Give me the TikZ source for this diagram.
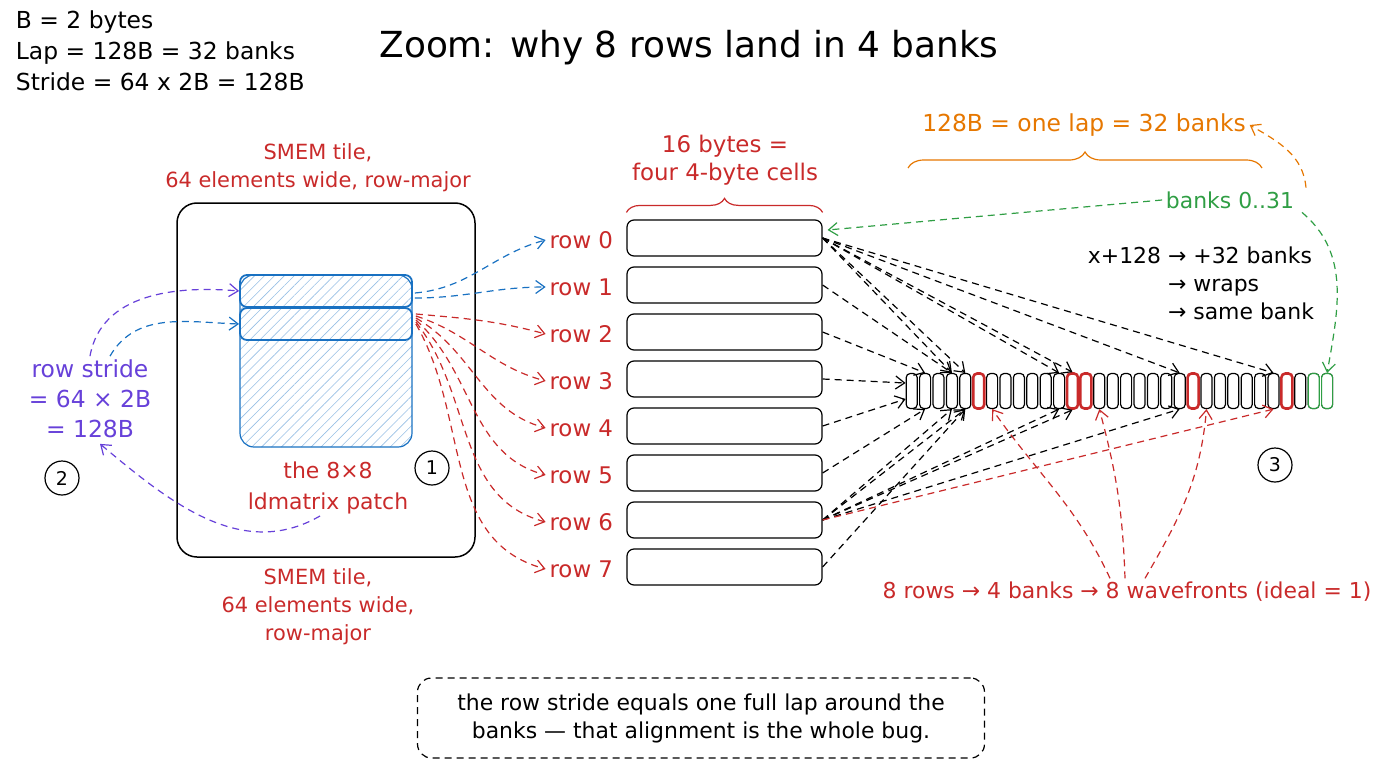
\documentclass[tikz,border=0pt]{standalone}
\usepackage{fontspec}
\setmainfont{DejaVu Sans}
\usepackage{tikz}
\usetikzlibrary{arrows.meta,patterns.meta,calc,decorations.pathreplacing}
\definecolor{lapred}{HTML}{C92A2A}
\definecolor{tileblue}{HTML}{1971C2}
\definecolor{stridepurple}{HTML}{6741D9}
\definecolor{bankgreen}{HTML}{2F9E44}
\definecolor{laporange}{HTML}{E67700}

\begin{document}
\begin{tikzpicture}[x=1bp, y=1bp, line width=1.2bp,
        every node/.append style={font=\fontsize{22}{28}\selectfont, align=center},
        link/.style={dash pattern=on 7bp off 5bp, -{Straight Barb[length=9bp,width=13bp]}}]
      \tikzstyle{rowbox} = [draw, rounded corners=7bp, minimum width=195bp, minimum height=36bp, inner sep=0pt]
      \tikzstyle{rowlab} = [text=lapred, anchor=east, font=\fontsize{23}{28}\selectfont]
      \tikzstyle{cell} = [draw, fill=white, rounded corners=4bp, minimum width=11bp, minimum height=35bp, inner sep=0pt]
      \tikzstyle{hotcell} = [cell, draw=lapred, line width=2.6bp]
      \tikzstyle{wrapcell} = [cell, draw=bankgreen]
      \tikzstyle{marker} = [draw, circle, minimum size=34bp, inner sep=0pt, font=\fontsize{19}{22}\selectfont]
      \tikzstyle{patchrow} = [draw=tileblue, line width=1.8bp, rounded corners=7bp, minimum width=172bp, minimum height=32bp, inner sep=0pt]
      \useasboundingbox (0,0) rectangle (1376,-768);

      \node (notes) [anchor=north west, align=left, font=\fontsize{23.5}{31}\selectfont] at (12,-7) {B = 2 bytes\\ Lap = 128B = 32 banks\\ Stride = 64 x 2B = 128B};
      \node (title) [font=\fontsize{36}{40}\selectfont] at (689,-48) {Zoom: why 8 rows land in 4 banks};

      \node (tile) [draw, rounded corners=20bp, minimum width=298bp, minimum height=354bp, line width=1.5bp] at (326,-380) {};
      \node (tiletop) [text=lapred, font=\fontsize{21}{28}\selectfont] at (318,-168) {SMEM tile,\\ 64 elements wide, row-major};
      \node (tilebot) [text=lapred, font=\fontsize{21}{28}\selectfont] at (318,-607) {SMEM tile,\\ 64 elements wide,\\ row-major};
      \node (patch) [draw=tileblue, rounded corners=14bp, pattern={Lines[angle=45,distance=7bp,line width=0.6bp]}, pattern color=tileblue!45, minimum width=172bp, minimum height=172bp] at (326,-361) {};
      \node (prow0) [patchrow] at (326,-291) {};
      \node (prow1) [patchrow] at (326,-324) {};
      \node (patchlab) [text=lapred, font=\fontsize{22}{31}\selectfont] at (328,-488) {the 8×8\\ ldmatrix patch};
      \node (stride) [text=stridepurple, font=\fontsize{23.5}{30}\selectfont] at (90,-399) {row stride\\ = 64 × 2B\\ = 128B};
      \node (one) [marker] at (432,-468) {1};
      \node (two) [marker] at (62,-478) {2};
      \node (three) [marker] at (1275,-465) {3};

      \foreach \r in {0,...,7} {
        \node (row\r) [rowbox] at (724.5,{-238-47*\r}) {};
        \node (lab\r) [rowlab] at (617,{-240-47*\r}) {row \r};
      }
      \draw [decorate, decoration={brace, amplitude=14bp}, lapred] ($(row0.north west)+(0,7)$) -- ($(row0.north east)+(0,7)$);
      \node (bytes) [text=lapred, font=\fontsize{23}{28}\selectfont] at (725,-160) {16 bytes =\\ four 4-byte cells};

      \foreach \i in {0,...,31}
        \node (c\i) [cell] at ({911.7+13.4*\i},-391) {};
      \foreach \i in {5,12,13,21,28}
        \node (c\i) [hotcell] at ({911.7+13.4*\i},-391) {};
      \foreach \i in {30,31}
        \node (c\i) [wrapcell] at ({911.7+13.4*\i},-391) {};

      \coordinate (lapL) at (908,-168);
      \coordinate (lapR) at (1262,-168);
      \draw [decorate, decoration={brace, amplitude=16bp}, laporange] (lapL) -- (lapR);
      \node (lap) [text=laporange, font=\fontsize{23.5}{28}\selectfont] at (1084,-125) {128B = one lap = 32 banks};
      \node (banks) [text=bankgreen] at (1230,-200) {banks 0..31};
      \node (wrap) [anchor=north west] at (1084,-240) {\begin{tabular}{@{}l@{ }l@{}}x+128 & → +32 banks\\ & → wraps\\ & → same bank\end{tabular}};
      \node (waves) [text=lapred] at (1127,-592) {8 rows → 4 banks → 8 wavefronts (ideal = 1)};
      \node (note) [draw, dash pattern=on 7bp off 5bp, rounded corners=14bp, minimum width=567bp, minimum height=80bp] at (701,-718) {the row stride equals one full lap around the\\ banks — that alignment is the whole bug.};

      \draw [link, stridepurple] (stride.north) to[out=80, in=175] (prow0.west);
      \draw [link, tileblue] ($(stride.north)+(20,0)$) to[out=60, in=178] (prow1.west);
      \draw [link, stridepurple] ($(patchlab.south)+(-8,2)$) to[out=-150, in=-40] ($(stride.south)+(10,-2)$);
      \draw [link, tileblue] ($(prow0.east)+(2,-2)$) to[out=5, in=195] (lab0.west);
      \draw [link, tileblue] ($(prow0.east)+(2,-7)$) to[out=0, in=180] (lab1.west);
      \foreach \r/\o in {2/-5,3/-18,4/-30,5/-42,6/-52,7/-60}
        \draw [link, lapred] ($(prow1.east)+(3,{14-2*\r})$) to[out=\o, in=165] (lab\r.west);

      \foreach \k in {3,4,11,12,20,27}
        \draw [link] (row0.east) -- (c\k.north);
      \draw [link] (row1.east) -- (c3.north);
      \draw [link] (row2.east) -- (c1.north);
      \draw [link] (row3.east) -- ($(c0.west)+(0,8)$);
      \draw [link] (row4.east) -- ($(c0.west)+(0,-8)$);
      \draw [link] (row5.east) -- (c1.south);
      \foreach \k in {3,4,11,12,20}
        \draw [link] (row6.east) -- (c\k.south);
      \draw [link, lapred] (row6.east) -- (c27.south);
      \draw [link] (row7.east) -- (c4.south);

      \draw [link, bankgreen] (banks.west) -- ($(row0.east)+(5,8)$);
      \draw [link, bankgreen] ($(banks.south east)+(4,0)$) to[out=-40, in=80] (c31.north);
      \draw [link, laporange] ($(banks.north east)+(8,0)$) to[out=95, in=-30] (lap.east);

      \draw [link, lapred] ($(waves.north)+(-17,0)$) to[out=115, in=-55] (c6.south);
      \draw [link, lapred] ($(waves.north)+(-2,0)$) to[out=92, in=-75] (c14.south);
      \draw [link, lapred] ($(waves.north)+(18,0)$) to[out=60, in=-95] (c22.south);
    \end{tikzpicture}
\end{document}
